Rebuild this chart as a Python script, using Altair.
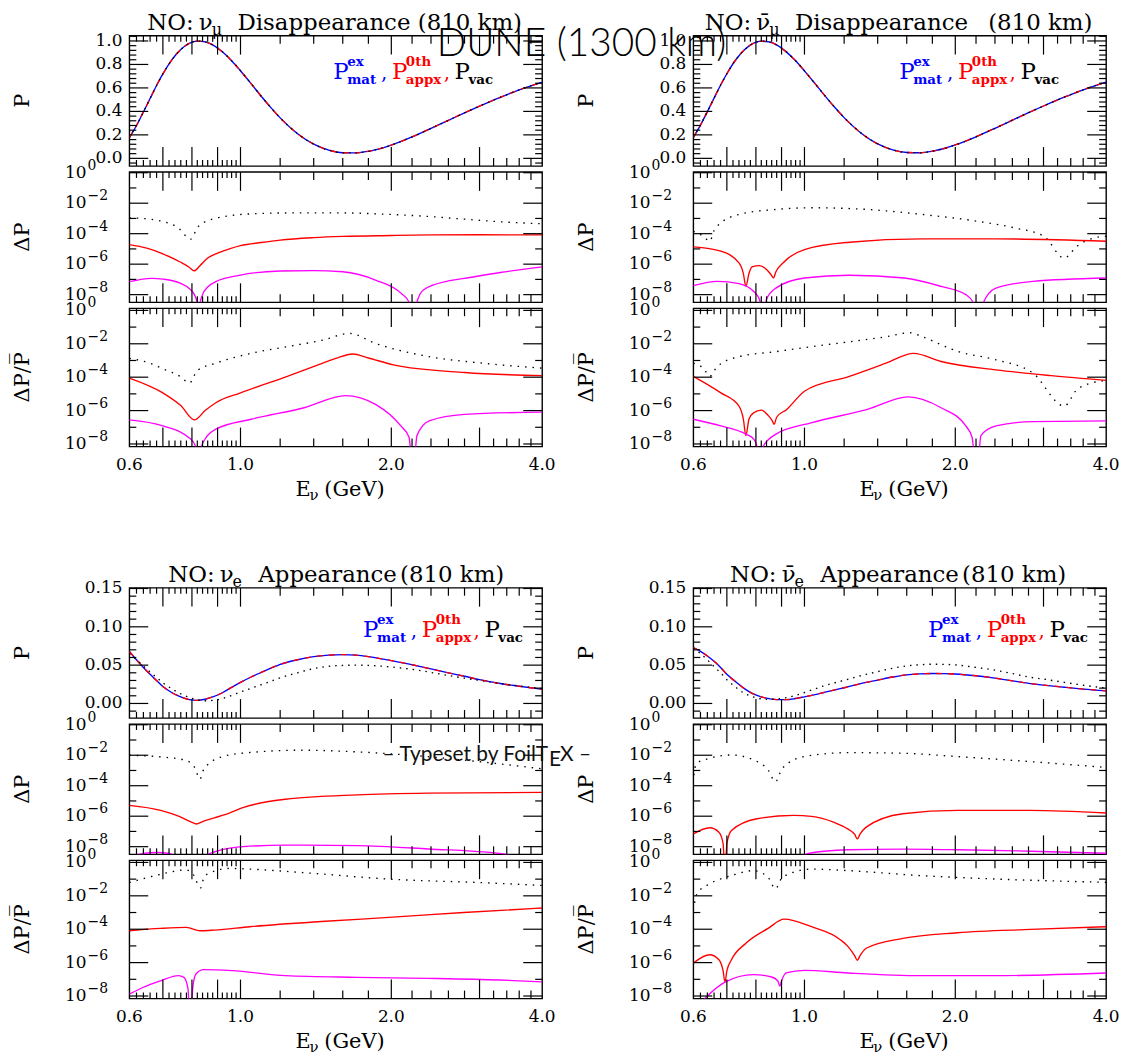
import altair as alt
import pandas as pd

FONT = "DejaVu Serif"
SANS = "Lato"
BLUE, RED, MAG, BLK = "#0000ff", "#ff0000", "#ff00ff", "#000000"

# ---------------------------------------------------------------- data
E_GRID = [0.60, 0.62, 0.64, 0.66, 0.68, 0.70, 0.73, 0.76, 0.79, 0.82, 0.85, 0.88,
          0.92, 0.96, 1.00, 1.05, 1.10, 1.15, 1.20, 1.30, 1.40, 1.50, 1.60, 1.70,
          1.80, 1.90, 2.00, 2.20, 2.40, 2.60, 2.80, 3.00, 3.30, 3.60, 4.00]

# nu_mu disappearance (matter, approx and vacuum overlap)
TL_P = [0.176, 0.280, 0.395, 0.510, 0.621, 0.719, 0.841, 0.927, 0.979, 0.999, 0.993, 0.967,
        0.908, 0.832, 0.746, 0.636, 0.529, 0.432, 0.345, 0.210, 0.121, 0.070, 0.048, 0.047,
        0.060, 0.083, 0.113, 0.183, 0.255, 0.324, 0.388, 0.445, 0.520, 0.583, 0.650]
TR_P = [0.178, 0.283, 0.398, 0.513, 0.623, 0.721, 0.842, 0.928, 0.979, 0.998, 0.992, 0.966,
        0.907, 0.831, 0.745, 0.636, 0.530, 0.433, 0.347, 0.212, 0.123, 0.072, 0.050, 0.048,
        0.061, 0.084, 0.114, 0.184, 0.256, 0.325, 0.389, 0.446, 0.521, 0.584, 0.650]
# nu_e appearance
BL_P_MAT = [0.068, 0.057, 0.047, 0.038, 0.030, 0.022, 0.014, 0.0085, 0.0050, 0.0040, 0.0055, 0.0085,
            0.0140, 0.0210, 0.0275, 0.0345, 0.0405, 0.0460, 0.0510, 0.0570, 0.0610, 0.0630, 0.0638, 0.0630,
            0.0610, 0.0585, 0.0560, 0.0505, 0.0450, 0.0400, 0.0355, 0.0310, 0.0260, 0.0225, 0.0185]
BL_P_VAC = [0.065, 0.057, 0.049, 0.041, 0.034, 0.027, 0.019, 0.0125, 0.0078, 0.0048, 0.0035, 0.0040,
            0.0065, 0.0105, 0.0150, 0.0198, 0.0245, 0.0290, 0.0335, 0.0400, 0.0455, 0.0485, 0.0496, 0.0500,
            0.0496, 0.0488, 0.0476, 0.0445, 0.0405, 0.0365, 0.0330, 0.0300, 0.0260, 0.0228, 0.0194]
BR_P_MAT = [0.073, 0.068, 0.062, 0.055, 0.047, 0.038, 0.028, 0.019, 0.0125, 0.0085, 0.0062, 0.0050,
            0.0050, 0.0065, 0.0087, 0.0115, 0.0148, 0.0178, 0.0205, 0.0262, 0.0305, 0.0345, 0.0374, 0.0386,
            0.0391, 0.0389, 0.0384, 0.0361, 0.0330, 0.0295, 0.0263, 0.0240, 0.0212, 0.0188, 0.0165]
BR_P_VAC = [0.072, 0.065, 0.057, 0.048, 0.040, 0.031, 0.021, 0.013, 0.0085, 0.0060, 0.0052, 0.0058,
            0.0075, 0.0105, 0.0143, 0.0190, 0.0235, 0.0270, 0.0302, 0.0365, 0.0415, 0.0460, 0.0490, 0.0505,
            0.0512, 0.0510, 0.0503, 0.0470, 0.0435, 0.0390, 0.0345, 0.0318, 0.0275, 0.0238, 0.0200]

# (E [GeV], log10 value) pairs
TL_DP_VAC = [(0.60, -2.96), (0.66, -3.05), (0.70, -3.2), (0.75, -3.6), (0.796, -4.36), (0.82, -3.6),
             (0.843, -3.28), (0.89, -3.0), (0.95, -2.82), (1.05, -2.7), (1.25, -2.64), (1.6, -2.64),
             (2.0, -2.74), (2.4, -2.88), (2.8, -3.05), (3.3, -3.22), (4.0, -3.35)]
TL_DP_APX = [(0.60, -4.72), (0.65, -4.95), (0.70, -5.32), (0.758, -5.86), (0.79, -6.2), (0.808, -6.44),
             (0.83, -6.1), (0.86, -5.6), (0.893, -5.32), (0.95, -5.0), (1.0, -4.79), (1.1, -4.58),
             (1.2, -4.42), (1.4, -4.26), (1.6, -4.18), (2.0, -4.12), (2.4, -4.08), (3.0, -4.07), (4.0, -4.08)]
TL_DP_1ST = [(0.60, -7.15), (0.665, -6.93), (0.70, -6.98), (0.758, -7.25), (0.79, -7.6), (0.809, -8.0),
             (0.82, -8.6), (0.825, -10), (0.83, -8.6), (0.84, -8.0), (0.86, -7.5), (0.893, -7.15),
             (1.0, -6.72), (1.2, -6.45), (1.4, -6.42), (1.6, -6.5), (1.86, -7.04), (2.09, -7.9),
             (2.17, -8.5), (2.21, -10), (2.25, -8.5), (2.32, -7.68), (2.6, -7.1), (2.8, -6.93),
             (3.3, -6.55), (4.0, -6.18)]
TL_DR_VAC = [(0.6, -2.87), (0.665, -3.2), (0.70, -3.5), (0.758, -3.95), (0.791, -4.35), (0.82, -3.6),
             (0.893, -3.16), (1.05, -2.57), (1.24, -2.17), (1.46, -1.78), (1.65, -1.38), (1.86, -1.98),
             (2.38, -2.77), (3.04, -3.16), (4.0, -3.46)]
TL_DR_APX = [(0.6, -4.05), (0.70, -4.94), (0.76, -5.7), (0.809, -6.56), (0.85, -6.0), (0.893, -5.53),
             (1.0, -4.94), (1.24, -3.95), (1.46, -3.16), (1.55, -2.88), (1.674, -2.61), (1.8, -2.85),
             (2.02, -3.26), (2.8, -3.72), (4.0, -3.91)]
TL_DR_1ST = [(0.6, -6.56), (0.70, -6.92), (0.795, -7.7), (0.815, -8.2), (0.825, -10), (0.835, -8.2),
             (0.85, -7.7), (0.893, -7.11), (1.05, -6.52), (1.34, -5.83), (1.62, -5.10), (1.86, -5.63),
             (2.09, -6.92), (2.17, -7.6), (2.21, -10), (2.25, -7.5), (2.38, -6.62), (2.8, -6.23), (4.0, -6.09)]

TR_DP_VAC = [(0.6, -3.84), (0.63, -4.2), (0.647, -4.5), (0.66, -3.8), (0.67, -3.5), (0.74, -2.74),
             (0.877, -2.41), (1.035, -2.30), (1.336, -2.41), (1.718, -2.74), (2.209, -3.18), (2.625, -3.62),
             (3.006, -4.17), (3.30, -5.6), (3.5, -4.82), (3.87, -4.21), (4.0, -4.17)]
TR_DP_APX = [(0.6, -4.87), (0.681, -5.15), (0.74, -5.92), (0.755, -6.6), (0.764, -7.46), (0.775, -6.6),
             (0.786, -6.18), (0.813, -6.10), (0.841, -6.36), (0.858, -6.7), (0.867, -6.9), (0.877, -6.5),
             (0.906, -5.92), (1.0, -5.04), (1.229, -4.56), (1.718, -4.34), (2.411, -4.34), (4.0, -4.5)]
TR_DP_1ST = [(0.6, -7.41), (0.670, -7.13), (0.74, -7.28), (0.792, -7.79), (0.813, -8.3), (0.827, -10),
             (0.84, -8.3), (0.877, -7.57), (1.0, -6.91), (1.229, -6.73), (1.583, -6.91), (1.874, -7.46),
             (2.099, -8.0), (2.18, -8.6), (2.228, -10), (2.27, -8.6), (2.411, -7.57), (2.857, -7.13), (4.0, -6.91)]
TR_DR_VAC = [(0.6, -3.16), (0.63, -3.5), (0.647, -3.95), (0.67, -3.36), (0.74, -2.77), (0.877, -2.47),
             (1.035, -2.17), (1.229, -1.88), (1.455, -1.58), (1.624, -1.34), (1.718, -1.58), (2.029, -2.47),
             (2.411, -2.96), (2.857, -3.75), (3.30, -5.73), (3.5, -4.74), (3.87, -4.25), (4.0, -4.2)]
TR_DR_APX = [(0.6, -3.95), (0.681, -4.94), (0.74, -5.73), (0.755, -6.5), (0.764, -7.5), (0.775, -6.5),
             (0.792, -6.13), (0.820, -5.97), (0.848, -6.32), (0.862, -6.6), (0.870, -6.82), (0.88, -6.4),
             (0.922, -5.93), (1.0, -4.84), (1.229, -3.95), (1.455, -3.16), (1.651, -2.57), (1.874, -3.06),
             (2.411, -3.56), (3.11, -3.91), (4.0, -4.19)]
TR_DR_1ST = [(0.6, -6.52), (0.681, -6.92), (0.764, -7.41), (0.792, -7.71), (0.805, -8.2), (0.813, -10),
             (0.825, -8.2), (0.877, -7.41), (1.035, -6.72), (1.336, -5.93), (1.610, -5.18), (1.874, -5.83),
             (2.099, -6.92), (2.16, -7.6), (2.209, -10), (2.25, -7.5), (2.411, -6.92), (2.857, -6.66), (4.0, -6.62)]

BL_DP_VAC = [(0.6, -2.0), (0.693, -2.11), (0.777, -2.33), (0.81, -2.8), (0.830, -3.56), (0.845, -2.9),
             (0.857, -2.67), (0.916, -2.11), (1.044, -1.82), (1.333, -1.67), (1.708, -1.78), (2.182, -2.0),
             (3.03, -2.44), (4.0, -2.89)]
BL_DP_APX = [(0.6, -5.29), (0.693, -5.62), (0.752, -6.0), (0.80, -6.4), (0.816, -6.51), (0.84, -6.35),
             (0.887, -6.11), (0.95, -5.8), (1.011, -5.44), (1.230, -4.89), (1.708, -4.6), (2.37, -4.49), (4.0, -4.44)]
BL_DP_1ST = [(0.6, -8.8), (0.638, -8.45), (0.682, -8.38), (0.722, -8.45), (0.76, -9.0), (0.80, -9.4),
             (0.857, -8.55), (0.92, -8.2), (1.011, -8.0), (1.230, -7.9), (1.708, -7.93), (2.37, -8.15),
             (3.29, -8.45), (3.51, -8.6), (4.0, -8.85)]
BL_DR_VAC = [(0.6, -1.21), (0.693, -0.71), (0.777, -0.45), (0.80, -0.61), (0.833, -1.52), (0.845, -0.9),
             (0.857, -0.71), (0.95, -0.36), (1.044, -0.4), (1.333, -0.61), (2.012, -1.01), (3.03, -1.21), (4.0, -1.38)]
BL_DR_APX = [(0.6, -4.09), (0.693, -3.95), (0.78, -3.89), (0.83, -4.09), (0.887, -4.05), (1.044, -3.85),
             (1.449, -3.54), (2.012, -3.28), (2.79, -3.0), (4.0, -2.73)]
BL_DR_1ST = [(0.6, -7.89), (0.638, -7.49), (0.693, -7.09), (0.752, -6.78), (0.771, -6.88), (0.785, -7.5),
             (0.795, -10), (0.803, -7.5), (0.815, -6.68), (0.844, -6.42), (0.962, -6.48), (1.230, -6.78),
             (1.708, -6.88), (2.37, -6.94), (3.29, -7.04), (4.0, -7.15)]

BR_DP_VAC = [(0.6, -3.8), (0.603, -3.0), (0.610, -2.53), (0.647, -2.2), (0.715, -1.98), (0.791, -2.31),
             (0.846, -2.97), (0.875, -3.74), (0.903, -2.86), (0.999, -2.09), (1.222, -1.83), (1.572, -1.87),
             (2.021, -2.09), (2.825, -2.42), (4.0, -2.80)]
BR_DP_APX = [(0.6, -7.16), (0.647, -6.76), (0.675, -7.05), (0.688, -7.8), (0.694, -10), (0.700, -7.8),
             (0.715, -6.94), (0.804, -6.17), (0.951, -5.95), (1.033, -6.01), (1.143, -6.39), (1.222, -6.85),
             (1.26, -7.2), (1.275, -7.49), (1.29, -7.2), (1.328, -6.72), (1.572, -5.84), (2.021, -5.62),
             (2.825, -5.62), (4.0, -5.79)]
BR_DP_1ST = [(0.6, -9.5), (0.68, -8.9), (0.715, -8.6), (0.739, -8.65), (0.80, -9.2), (0.90, -9.2),
             (0.97, -8.9), (1.016, -8.45), (1.222, -8.2), (1.572, -8.16), (2.021, -8.2), (2.825, -8.3), (4.0, -8.43)]
BR_DR_VAC = [(0.6, -2.87), (0.61, -1.88), (0.647, -1.28), (0.715, -0.79), (0.791, -0.49), (0.846, -0.89),
             (0.875, -1.58), (0.903, -0.89), (1.033, -0.4), (1.222, -0.49), (1.709, -0.79), (2.389, -0.99), (4.0, -1.19)]
BR_DR_APX = [(0.6, -6.03), (0.647, -5.53), (0.675, -5.83), (0.688, -6.5), (0.694, -7.17), (0.700, -6.5),
             (0.715, -5.83), (0.764, -4.84), (0.846, -3.95), (0.911, -3.40), (1.033, -3.85), (1.181, -4.64),
             (1.222, -5.04), (1.26, -5.6), (1.275, -5.87), (1.29, -5.6), (1.328, -5.14), (1.572, -4.55),
             (2.021, -4.21), (2.825, -4.01), (4.0, -3.85)]
BR_DR_1ST = [(0.6, -8.9), (0.63, -8.2), (0.694, -7.17), (0.791, -6.72), (0.860, -6.86), (0.885, -7.1),
             (0.893, -7.41), (0.90, -7.1), (0.919, -6.62), (0.999, -6.46), (1.222, -6.62), (1.709, -6.78),
             (2.389, -6.78), (4.0, -6.62)]

# axis tick values / labels
X_LAB_V = [0.6, 1.0, 2.0, 4.0]
X_LAB_T = ["0.6", "1.0", "2.0", "4.0"]
X_TICK_LONG = [0.7, 0.8, 0.9, 1.0, 2.0, 3.0]
X_TICK_MED = [1.2, 1.4, 1.6, 1.8, 2.2, 2.4, 2.6, 2.8, 3.2, 3.4, 3.6, 3.8]
X_TICK_SHORT = [0.62, 0.64, 0.66, 0.68, 0.72, 0.74, 0.76, 0.78, 0.82, 0.84, 0.86, 0.88,
                0.92, 0.94, 0.96, 0.98]
PD_LAB_V = [0.0, 0.2, 0.4, 0.6, 0.8, 1.0]
PD_LAB_T = ["0.0", "0.2", "0.4", "0.6", "0.8", "1.0"]
PD_SHORT = [-0.04, 0.04, 0.08, 0.12, 0.16, 0.24, 0.28, 0.32, 0.36, 0.44, 0.48, 0.52, 0.56,
            0.64, 0.68, 0.72, 0.76, 0.84, 0.88, 0.92, 0.96, 1.04]
PA_LAB_V = [0.0, 0.05, 0.10, 0.15]
PA_LAB_T = ["0.00", "0.05", "0.10", "0.15"]
PA_SHORT = [-0.01, 0.01, 0.02, 0.03, 0.04, 0.06, 0.07, 0.08, 0.09, 0.11, 0.12, 0.13, 0.14]
LOG_EXP = [0, -2, -4, -6, -8]
LOG_SUP = ["0", "\u22122", "\u22124", "\u22126", "\u22128"]
LOG_SHORT_EXP = [-1, -3, -5, -7]

# ---------------------------------------------------------------- layout
W = 415
H_P, H_D, H_R = 131, 131, 139
CH = 12.95  # character pitch of the (monospaced) panel titles
XS = alt.Scale(type="log", domain=[0.6, 4.0], nice=False)
YS_PD = alt.Scale(domain=[-0.065, 1.045], nice=False, zero=False)
YS_PA = alt.Scale(domain=[-0.019, 0.151], nice=False, zero=False)
YS_D = alt.Scale(type="log", domain=[10 ** -8.5, 10 ** 0.05], nice=False)
YS_R = alt.Scale(type="log", domain=[10 ** -8.15, 10 ** 0.13], nice=False)
ONE = pd.DataFrame({"k": [0]})


def X():
    return alt.X("E:Q", scale=XS, axis=None)


def Y(ys):
    return alt.Y("v:Q", scale=ys, axis=None)


def lin_df(vals):
    return pd.DataFrame({"E": E_GRID, "v": vals})


def log_df(pairs):
    return pd.DataFrame({"E": [p[0] for p in pairs], "v": [10.0 ** p[1] for p in pairs]})


def curve(df, ys, color, dash=None, width=1.35):
    kw = dict(color=color, strokeWidth=width, clip=True, interpolate="monotone")
    if dash is not None:
        kw["strokeDash"] = dash
    return alt.Chart(df).mark_line(**kw).encode(x=X(), y=Y(ys))


def ticks(ys, h, ylong, yshort):
    out = []
    for vals, L in [(X_TICK_LONG, 19), (X_TICK_MED, 8), (X_TICK_SHORT, 6)]:
        r = alt.Chart(pd.DataFrame({"E": vals})).mark_rule(color="black", strokeWidth=1.2)
        out.append(r.encode(x=X(), y=alt.value(0), y2=alt.value(L)))
        out.append(r.encode(x=X(), y=alt.value(h), y2=alt.value(h - L)))
    for vals, L in [(ylong, 19), (yshort, 7)]:
        r = alt.Chart(pd.DataFrame({"v": vals})).mark_rule(color="black", strokeWidth=1.2)
        out.append(r.encode(y=Y(ys), x=alt.value(0), x2=alt.value(L)))
        out.append(r.encode(y=Y(ys), x=alt.value(W), x2=alt.value(W - L)))
    return out


def txt(s, x, y, size=21, color="black", align="left", weight="normal", font=FONT,
        angle=0, baseline="alphabetic"):
    kw = dict(text=s, align=align, baseline=baseline, font=font, fontSize=size,
              color=color, fontWeight=weight)
    if angle:
        kw["angle"] = angle
    return alt.Chart(ONE).mark_text(**kw).encode(x=alt.value(x), y=alt.value(y))


def lin_labels(ys, vals, texts):
    df = pd.DataFrame({"v": vals, "t": texts})
    return alt.Chart(df).mark_text(align="right", baseline="middle", font=FONT, fontSize=17).encode(
        y=Y(ys), x=alt.value(-7), text="t:N")


def log_labels(ys):
    df = pd.DataFrame({"v": [10.0 ** e for e in LOG_EXP], "s": LOG_SUP})
    base = alt.Chart(df).mark_text(text="10", align="right", baseline="middle", font=FONT,
                                   fontSize=17).encode(y=Y(ys), x=alt.value(-43))
    sup = alt.Chart(df).mark_text(align="left", baseline="middle", font=FONT, fontSize=14,
                                  dy=-7).encode(y=Y(ys), x=alt.value(-42), text="s:N")
    return [base, sup]


def x_labels(ys, h):
    df = pd.DataFrame({"E": X_LAB_V, "t": X_LAB_T})
    lab = alt.Chart(df).mark_text(align="center", baseline="middle", font=FONT, fontSize=17).encode(
        x=X(), y=alt.value(h + 19), text="t:N")
    return [lab, txt("E", 167, h + 50, 21), txt("\u03bd", 181, h + 54, 15),
            txt("(GeV)", 196, h + 50, 21)]


def ytitle(s, h):
    return txt(s, -107, h / 2, 21, align="center", baseline="middle", angle=270)


def title(x0, nu, sub, word, gap_chars):
    """Monospaced title: 'NO: <nu><sub> <word> (810 km)' laid out on a fixed pitch."""
    y = -6
    out = [txt("NO:", x0, y, 23), txt(nu, x0 + 4 * CH, y, 23),
           txt(sub, x0 + 5 * CH, y + 5, 16), txt(word, x0 + 7 * CH, y, 23)]
    out.append(txt("(810 km)", x0 + (7 + len(word) + gap_chars) * CH, y, 23))
    return out


def legend(x0, yb):
    out = []
    for dx, col, sup, sub, cx in [(0, BLUE, "ex", "mat", 48), (59, RED, "0th", "appx", 52),
                                  (122, BLK, None, "vac", None)]:
        out.append(txt("P", x0 + dx, yb, 23, color=col))
        if sup:
            out.append(txt(sup, x0 + dx + 14, yb - 14, 13.5, color=col, weight="bold"))
        out.append(txt(sub, x0 + dx + 14, yb + 5, 13.5, color=col, weight="bold"))
        if cx:
            out.append(txt(",", x0 + dx + cx, yb, 20, color=col))
    return out


def p_panel(mat, apx, vac, ys, lab_v, lab_t, short_t, title_layers, leg, extras=()):
    layers = [curve(lin_df(mat), ys, BLUE), curve(lin_df(apx), ys, RED, dash=[6, 6]),
              curve(lin_df(vac), ys, BLK, dash=[1.5, 5])]
    layers += ticks(ys, H_P, lab_v, short_t)
    layers.append(lin_labels(ys, lab_v, lab_t))
    layers.append(ytitle("P", H_P))
    layers += title_layers + leg + list(extras)
    return alt.layer(*layers).properties(width=W, height=H_P)


def log_panel(vac, apx, first, ys, h, name, bottom=False, extras=()):
    layers = [curve(log_df(vac), ys, BLK, dash=[1.5, 6]), curve(log_df(apx), ys, RED),
              curve(log_df(first), ys, MAG)]
    layers += ticks(ys, h, [10.0 ** e for e in LOG_EXP], [10.0 ** e for e in LOG_SHORT_EXP])
    layers += log_labels(ys)
    layers.append(ytitle(name, h))
    if bottom:
        layers += x_labels(ys, h)
    layers += list(extras)
    return alt.layer(*layers).properties(width=W, height=h)


NU = "\u03bd"
NUBAR = "\u03bd\u0304"
DPP = "\u0394P/P\u0305"

dune = [txt("DUNE (1300 km)", 309, 20, 39, font=SANS, weight=300)]
foil = [txt("\u2013 Typeset by FoilT", 421, 37, 21, font=SANS, align="right", color="#111111"),
        txt("E", 422, 42, 21, font=SANS, color="#111111"),
        txt("X \u2013", 433, 37, 21, font=SANS, color="#111111")]

tl_p = p_panel(TL_P, TL_P, TL_P, YS_PD, PD_LAB_V, PD_LAB_T, PD_SHORT,
               title(18, NU, "\u03bc", "Disappearance", 1), legend(205, 44), extras=dune)
tr_p = p_panel(TR_P, TR_P, TR_P, YS_PD, PD_LAB_V, PD_LAB_T, PD_SHORT,
               title(11.5, NUBAR, "\u03bc", "Disappearance", 2), legend(207, 44))
bl_p = p_panel(BL_P_MAT, BL_P_MAT, BL_P_VAC, YS_PA, PA_LAB_V, PA_LAB_T, PA_SHORT,
               title(39, NU, "e", "Appearance", 1), legend(235, 50))
br_p = p_panel(BR_P_MAT, BR_P_MAT, BR_P_VAC, YS_PA, PA_LAB_V, PA_LAB_T, PA_SHORT,
               title(37, NUBAR, "e", "Appearance", 1), legend(236, 50))

tl_d = log_panel(TL_DP_VAC, TL_DP_APX, TL_DP_1ST, YS_D, H_D, "\u0394P")
tr_d = log_panel(TR_DP_VAC, TR_DP_APX, TR_DP_1ST, YS_D, H_D, "\u0394P")
bl_d = log_panel(BL_DP_VAC, BL_DP_APX, BL_DP_1ST, YS_D, H_D, "\u0394P", extras=foil)
br_d = log_panel(BR_DP_VAC, BR_DP_APX, BR_DP_1ST, YS_D, H_D, "\u0394P")

tl_r = log_panel(TL_DR_VAC, TL_DR_APX, TL_DR_1ST, YS_R, H_R, DPP, bottom=True)
tr_r = log_panel(TR_DR_VAC, TR_DR_APX, TR_DR_1ST, YS_R, H_R, DPP, bottom=True)
bl_r = log_panel(BL_DR_VAC, BL_DR_APX, BL_DR_1ST, YS_R, H_R, DPP, bottom=True)
br_r = log_panel(BR_DR_VAC, BR_DR_APX, BR_DR_1ST, YS_R, H_R, DPP, bottom=True)


def spacer():
    return alt.Chart(ONE).mark_point(opacity=0).encode(
        x=alt.value(0), y=alt.value(0)).properties(
        width=W, height=130, view=alt.ViewBackground(strokeOpacity=0, strokeWidth=0))


chart = alt.concat(
    tl_p, tr_p, tl_d, tr_d, tl_r, tr_r,
    spacer(), spacer(),
    bl_p, br_p, bl_d, br_d, bl_r, br_r,
    columns=2, spacing=alt.RowColnumber(row=6, column=152), bounds="flush",
).properties(
    padding={"left": 3, "top": 0, "right": 5, "bottom": 5}, background="white"
).configure_view(stroke="black", strokeWidth=1.4)

chart.save("out.html", embed_options={"renderer": "svg", "actions": False})
